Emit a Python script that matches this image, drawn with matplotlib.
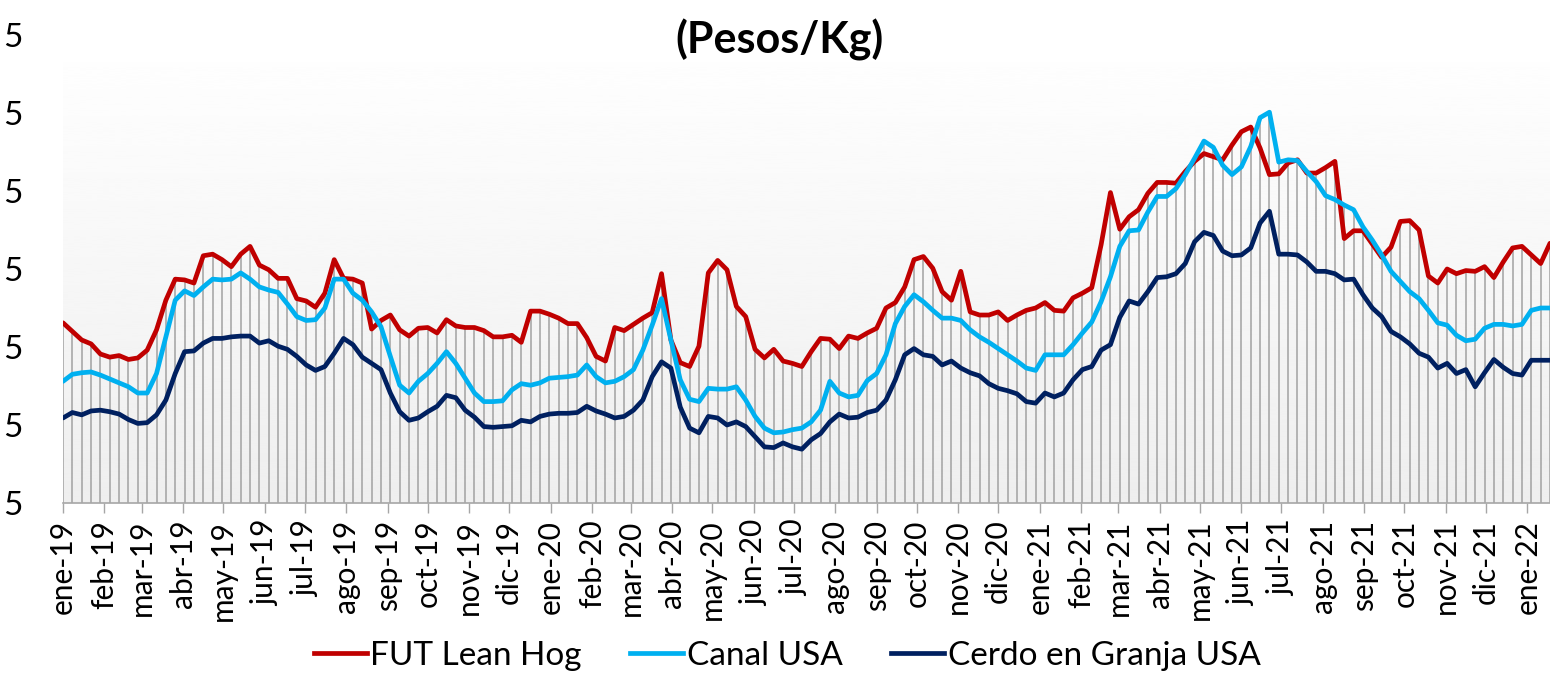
import numpy as np
import pandas as pd
import matplotlib
matplotlib.use("Agg")
import matplotlib.pyplot as plt
import matplotlib.dates as mdates
from matplotlib.lines import Line2D

plt.rcParams['font.family'] = ['Lato', 'DejaVu Sans']

# ---------------- data (Pesos/Kg, weekly) ----------------
dates = pd.date_range('2019-01-01', periods=160, freq='7D')

fut_lean_hog = [
    28.1, 27.0, 25.9, 25.4, 24.1, 23.7, 23.9, 23.4, 23.6, 24.6,
    27.2, 31.0, 33.7, 33.6, 33.2, 36.7, 36.9, 36.2, 35.3, 36.9,
    37.9, 35.5, 34.9, 33.8, 33.8, 31.2, 30.9, 30.1, 31.9, 36.2,
    33.8, 33.7, 33.2, 27.3, 28.4, 29.1, 27.2, 26.4, 27.4, 27.5,
    26.8, 28.5, 27.7, 27.5, 27.5, 27.1, 26.3, 26.3, 26.5, 25.6,
    29.6, 29.6, 29.2, 28.7, 28.0, 28.0, 26.2, 23.8, 23.2, 27.5,
    27.1, 27.9, 28.7, 29.4, 34.4, 25.9, 23.0, 22.5, 25.1, 34.5,
    36.1, 34.9, 30.2, 28.9, 24.7, 23.6, 24.7, 23.2, 22.9, 22.5,
    24.4, 26.1, 26.0, 24.8, 26.4, 26.1, 26.8, 27.4, 30.0, 30.7,
    32.7, 36.2, 36.6, 35.1, 32.1, 31.0, 34.7, 29.5, 29.1, 29.1,
    29.5, 28.4, 29.1, 29.7, 30.0, 30.7, 29.7, 29.6, 31.3, 31.9,
    32.6, 38.1, 44.8, 40.1, 41.7, 42.6, 44.7, 46.1, 46.1, 46.0,
    47.5, 48.8, 49.8, 49.4, 49.0, 50.9, 52.6, 53.2, 50.5, 47.1,
    47.2, 48.6, 49.0, 47.3, 47.3, 48.0, 48.8, 38.9, 39.9, 39.9,
    38.2, 36.5, 37.8, 41.1, 41.2, 40.0, 34.1, 33.2, 35.0, 34.4,
    34.8, 34.7, 35.3, 33.9, 35.9, 37.7, 37.9, 36.8, 35.7, 38.3,
]

canal_usa = [
    20.6, 21.5, 21.7, 21.8, 21.4, 20.9, 20.4, 19.9, 19.1, 19.1,
    21.6, 26.3, 31.0, 32.2, 31.6, 32.7, 33.7, 33.6, 33.7, 34.5,
    33.7, 32.7, 32.3, 32.0, 30.5, 28.9, 28.4, 28.5, 30.0, 33.7,
    33.7, 31.9, 31.0, 29.5, 27.6, 23.8, 20.1, 19.1, 20.6, 21.6,
    22.9, 24.4, 22.9, 21.0, 19.1, 18.0, 18.0, 18.1, 19.5, 20.3,
    20.1, 20.4, 21.0, 21.1, 21.2, 21.4, 22.7, 21.2, 20.4, 20.6,
    21.2, 22.1, 24.6, 27.8, 31.2, 25.9, 20.8, 18.3, 18.0, 19.7,
    19.6, 19.6, 19.9, 18.2, 16.1, 14.6, 14.0, 14.1, 14.4, 14.6,
    15.4, 16.9, 20.6, 19.1, 18.6, 18.8, 20.7, 21.6, 24.0, 28.0,
    30.2, 31.7, 30.8, 29.7, 28.7, 28.7, 28.4, 27.2, 26.3, 25.6,
    24.8, 24.0, 23.2, 22.3, 22.0, 24.0, 24.0, 24.0, 25.3, 26.8,
    28.2, 30.8, 34.0, 37.9, 39.9, 40.0, 42.3, 44.3, 44.3, 45.3,
    47.1, 49.2, 51.4, 50.6, 48.3, 47.1, 48.1, 50.7, 54.4, 55.1,
    48.7, 49.0, 48.9, 47.5, 46.2, 44.4, 43.9, 43.2, 42.6, 40.4,
    38.7, 36.8, 34.7, 33.4, 32.1, 31.2, 29.7, 28.1, 27.8, 26.5,
    25.8, 26.0, 27.4, 27.9, 27.9, 27.7, 27.9, 29.7, 30.0, 30.0,
]

cerdo_granja_usa = [
    15.9, 16.6, 16.3, 16.8, 16.9, 16.7, 16.4, 15.7, 15.2, 15.3,
    16.3, 18.2, 21.6, 24.4, 24.5, 25.5, 26.1, 26.1, 26.3, 26.4,
    26.4, 25.5, 25.8, 25.1, 24.7, 23.8, 22.7, 22.0, 22.5, 24.2,
    26.1, 25.3, 23.7, 22.9, 22.1, 19.1, 16.7, 15.6, 15.9, 16.7,
    17.4, 18.8, 18.5, 16.9, 16.0, 14.8, 14.7, 14.8, 14.9, 15.6,
    15.4, 16.1, 16.4, 16.5, 16.5, 16.6, 17.4, 16.8, 16.4, 15.9,
    16.1, 16.9, 18.2, 21.2, 23.1, 22.3, 17.3, 14.6, 14.0, 16.1,
    15.9, 15.0, 15.4, 14.8, 13.5, 12.2, 12.1, 12.7, 12.2, 11.9,
    13.1, 13.9, 15.4, 16.4, 15.9, 16.0, 16.6, 16.9, 18.2, 20.8,
    24.0, 24.8, 24.0, 23.8, 22.7, 23.2, 22.3, 21.7, 21.3, 20.3,
    19.7, 19.4, 19.0, 18.0, 17.8, 19.1, 18.6, 19.1, 20.8, 22.1,
    22.5, 24.6, 25.3, 28.8, 30.9, 30.5, 32.1, 33.9, 34.0, 34.4,
    35.7, 38.5, 39.7, 39.3, 37.3, 36.7, 36.8, 37.7, 40.9, 42.4,
    36.9, 36.9, 36.8, 35.9, 34.7, 34.7, 34.4, 33.6, 33.7, 31.7,
    30.0, 28.9, 27.0, 26.3, 25.4, 24.2, 23.7, 22.3, 22.9, 21.6,
    22.1, 19.9, 21.7, 23.4, 22.4, 21.6, 21.4, 23.3, 23.3, 23.3,
]

series_names = ['FUT Lean Hog', 'Canal USA', 'Cerdo en Granja USA']
series_colors = ['#C00000', '#00B0F0', '#002060']
y_ticks = [5, 15, 25, 35, 45, 55, 65]
# only the last digit of each y label is visible in the reference (cropped image)
y_tick_labels = ['5', '5', '5', '5', '5', '5', '5']
month_abbr = ['ene', 'feb', 'mar', 'abr', 'may', 'jun',
              'jul', 'ago', 'sep', 'oct', 'nov', 'dic']

# ---------------- figure ----------------
W, H = 1550, 674
fig = plt.figure(figsize=(W / 100, H / 100), dpi=100)
ax = fig.add_axes([63 / W, (H - 503) / H, (W - 63) / W, (503 - 35) / H])

# gradient plot-area fill
grad = np.linspace(1.0, 0.935, 256).reshape(-1, 1)
ax.imshow(grad, cmap='gray', vmin=0, vmax=1, aspect='auto',
          extent=[0, 1, 0, 1], transform=ax.transAxes, zorder=0,
          interpolation='bicubic')

xs = mdates.date2num(dates)
all_vals = np.vstack([fut_lean_hog, canal_usa, cerdo_granja_usa])
top = all_vals.max(axis=0)
ax.vlines(xs, y_ticks[0], top, colors='#a5a5a5', lw=1.15, zorder=1)

for vals, name, col in zip([fut_lean_hog, canal_usa, cerdo_granja_usa],
                           series_names, series_colors):
    ax.plot(xs, vals, color=col, lw=3.4, zorder=3, label=name,
            solid_joinstyle='round', solid_capstyle='round')

ax.set_xlim(xs[0], xs[-1])
ax.set_ylim(y_ticks[0], y_ticks[-1])

# x ticks at month starts
month_starts = pd.date_range('2019-01-01', dates[-1], freq='MS')
ax.set_xticks(mdates.date2num(month_starts))
ax.set_xticklabels([f"{month_abbr[d.month - 1]}-{d.strftime('%y')}" for d in month_starts],
                   rotation=90, fontsize=21.5)
ax.tick_params(axis='x', length=7, width=1, color='#a6a6a6', pad=5)

ax.set_yticks(y_ticks)
ax.set_yticklabels(y_tick_labels, fontsize=24)
ax.tick_params(axis='y', length=0, pad=29.5)

for s in ['left', 'right', 'top']:
    ax.spines[s].set_visible(False)
ax.spines['bottom'].set_color('#a6a6a6')
ax.spines['bottom'].set_linewidth(1.2)
ax.spines['bottom'].set_zorder(2)

fig.text(780 / W, 1 - 40 / H, '(Pesos/Kg)', ha='center', va='center',
         fontsize=31, fontweight='bold')

handles = [Line2D([0], [0], color=c, lw=3.4) for c in series_colors]
fig.legend(handles, series_names, loc='center', ncol=3,
           bbox_to_anchor=(787 / W, 1 - 656 / H), frameon=False,
           fontsize=24, handlelength=1.6, handletextpad=0.1,
           columnspacing=1.45, borderpad=0.1)

fig.savefig('out.png', dpi=100)
